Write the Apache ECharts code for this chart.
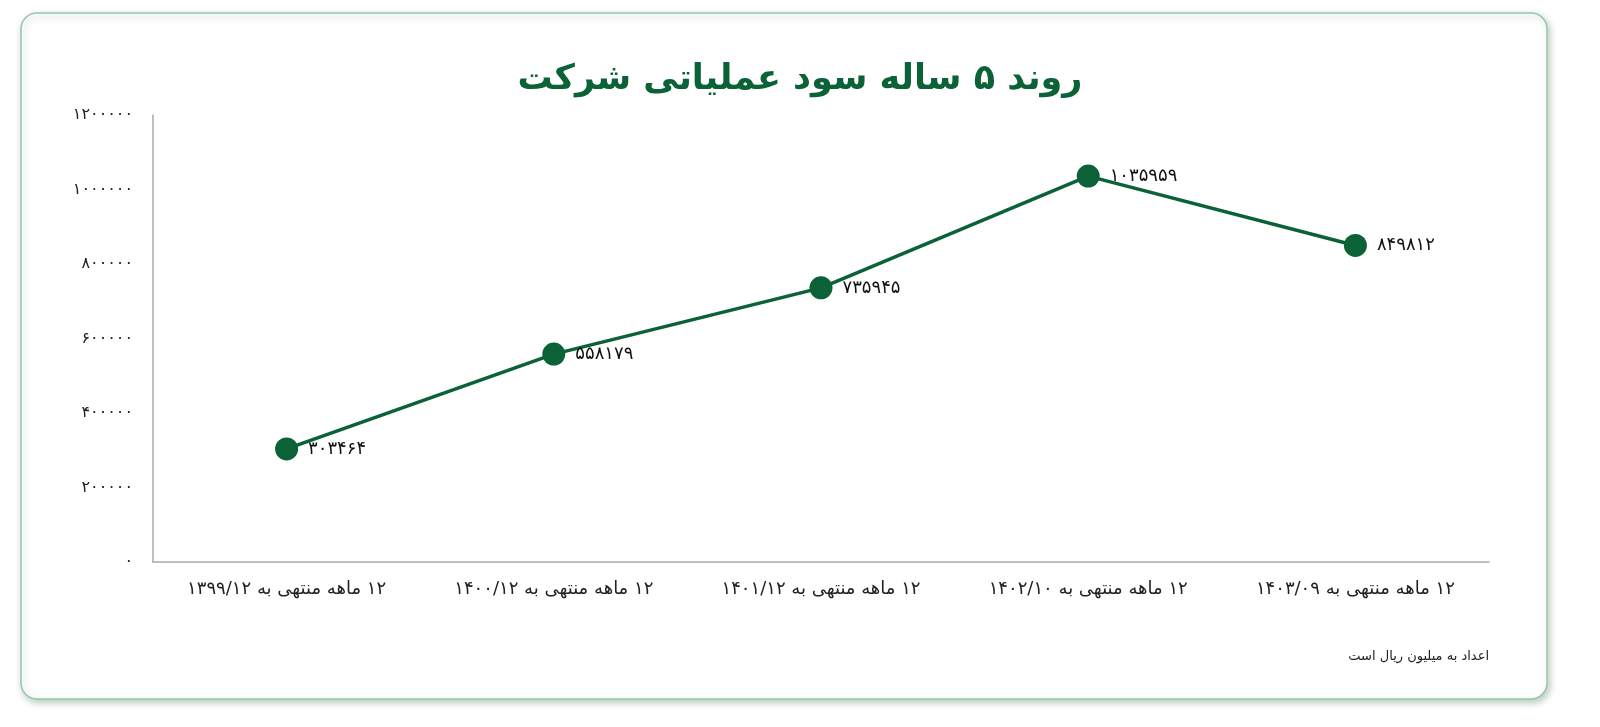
<!DOCTYPE html>
<html>
<head>
<meta charset="utf-8">
<script src="https://cdn.jsdelivr.net/npm/echarts@6/dist/echarts.min.js"></script>
<style>
html,body{margin:0;padding:0;background:#fff;}
#c{width:1600px;height:727px;}
</style>
</head>
<body>
<div id="c" dir="rtl"></div>
<script>
var categories = ['۱۲ ماهه منتهی به ۱۳۹۹/۱۲','۱۲ ماهه منتهی به ۱۴۰۰/۱۲','۱۲ ماهه منتهی به ۱۴۰۱/۱۲','۱۲ ماهه منتهی به ۱۴۰۲/۱۰','۱۲ ماهه منتهی به ۱۴۰۳/۰۹'];
var profit = [303464, 558179, 735945, 1035959, 849812];
var yTicks = [0, 200000, 400000, 600000, 800000, 1000000, 1200000];
var titleText = 'روند ۵ ساله سود عملیاتی شرکت';
var noteText = 'اعداد به میلیون ریال است';

function fa(n){ return String(n).replace(/[0-9]/g, function(d){ return '۰۱۲۳۴۵۶۷۸۹'[+d]; }); }

var font = 'DejaVu Sans';
var chart = echarts.init(document.getElementById('c'));
chart.setOption({
  backgroundColor: '#ffffff',
  textStyle: { fontFamily: font },
  graphic: [
    { type: 'rect', z: -10, silent: true,
      shape: { x: 21, y: 13, width: 1526, height: 686, r: 16 },
      style: { fill: '#ffffff', stroke: '#9cc3ad', lineWidth: 1.5,
               shadowColor: 'rgba(20,90,50,0.3)', shadowBlur: 7, shadowOffsetX: 2, shadowOffsetY: 3 } },
    { type: 'text', right: 111, top: 650, silent: true,
      style: { text: noteText, fontFamily: font, fontSize: 13, fill: '#222', textAlign: 'right' } }
  ],
  title: {
    text: titleText, left: 'center', top: 57,
    textStyle: { fontFamily: font, fontSize: 35, fontWeight: 'bold', color: '#0b6236' }
  },
  grid: { left: 153, right: 111, top: 115, bottom: 165 },
  xAxis: {
    type: 'category', data: categories, boundaryGap: true,
    axisLine: { lineStyle: { color: '#aaaaaa', width: 1.5 } },
    axisTick: { show: false },
    axisLabel: { fontFamily: font, fontSize: 18, color: '#222', margin: 18 }
  },
  yAxis: {
    type: 'value', min: yTicks[0], max: yTicks[yTicks.length-1], interval: 200000,
    axisLine: { show: true, lineStyle: { color: '#aaaaaa', width: 1.5 } },
    axisTick: { show: false },
    splitLine: { show: false },
    axisLabel: { fontFamily: font, fontSize: 16, color: '#222', margin: 20, formatter: function(v){ return fa(v); } }
  },
  series: [{
    type: 'line', data: profit,
    symbol: 'circle', symbolSize: 23,
    lineStyle: { color: '#0b6236', width: 3.5 },
    itemStyle: { color: '#0b6236' },
    label: { show: true, position: 'right', distance: 10, fontFamily: font, fontSize: 18, color: '#111',
             formatter: function(p){ return fa(p.value); } }
  }]
});
</script>
</body>
</html>
